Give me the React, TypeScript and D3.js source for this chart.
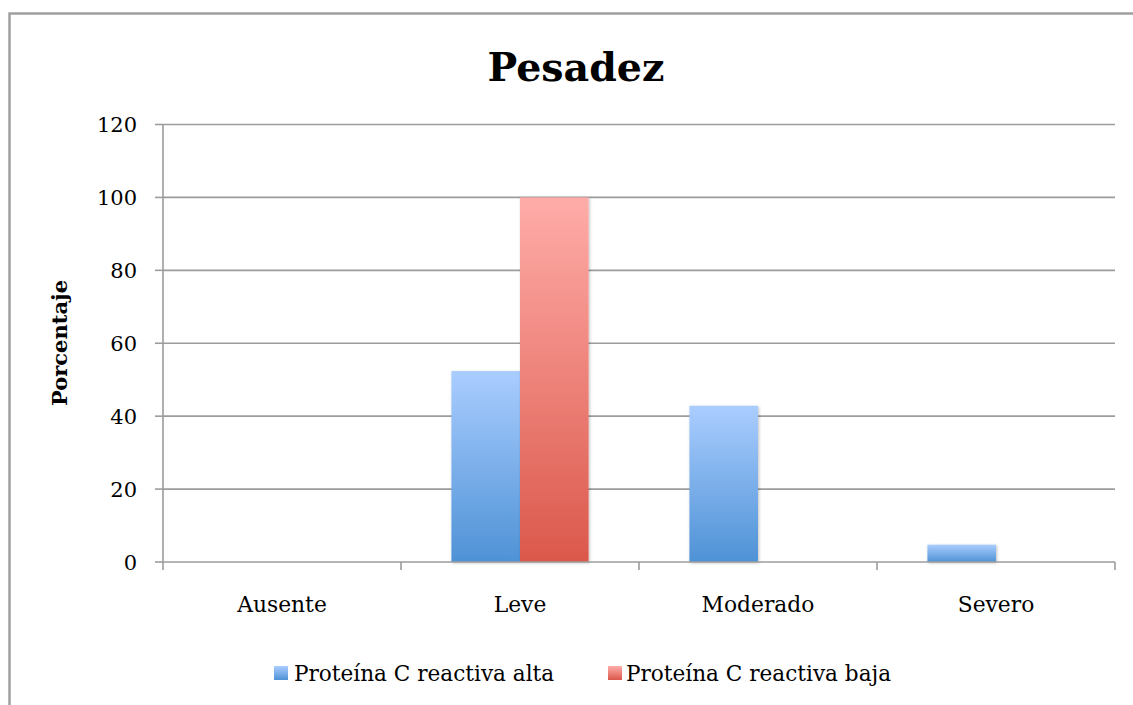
import React, { useEffect, useRef } from "react";
import * as d3 from "d3";

const categories = ["Ausente", "Leve", "Moderado", "Severo"];
const seriesNames = ["Proteína C reactiva alta", "Proteína C reactiva baja"];
const altaValues = [0, 52.38, 42.86, 4.76];
const bajaValues = [0, 100, 0, 0];
const yTicks = [0, 20, 40, 60, 80, 100, 120];
const title = "Pesadez";
const yLabel = "Porcentaje";

const W = 1133;
const H = 705;
const FONT = "'DejaVu Serif', serif";

export default function App() {
  const ref = useRef<SVGSVGElement>(null);

  useEffect(() => {
    document.body.style.margin = "0";
    const svg = d3.select(ref.current);
    svg.selectAll("*").remove();

    const left = 163, right = 1115, top = 124.5, bottom = 562;
    const x = d3.scaleBand<string>().domain(categories).range([left, right]).paddingInner(0).paddingOuter(0);
    const y = d3.scaleLinear().domain([0, 120]).range([bottom, top]);
    const inner = d3.scaleBand<number>().domain([0, 1]).range([0, x.bandwidth()]).paddingOuter(0.735).paddingInner(0);

    const defs = svg.append("defs");
    const gradBlue = defs.append("linearGradient").attr("id", "gBlue").attr("x1", 0).attr("y1", 0).attr("x2", 0).attr("y2", 1);
    gradBlue.append("stop").attr("offset", "0%").attr("stop-color", "#aacdff");
    gradBlue.append("stop").attr("offset", "100%").attr("stop-color", "#4e92d6");
    const gradRed = defs.append("linearGradient").attr("id", "gRed").attr("x1", 0).attr("y1", 0).attr("x2", 0).attr("y2", 1);
    gradRed.append("stop").attr("offset", "0%").attr("stop-color", "#ffaca8");
    gradRed.append("stop").attr("offset", "100%").attr("stop-color", "#db584b");
    const shadow = defs.append("filter").attr("id", "shadow").attr("x", "-20%").attr("y", "-20%").attr("width", "140%").attr("height", "140%");
    shadow.append("feDropShadow").attr("dx", 1).attr("dy", 1).attr("stdDeviation", 1.5).attr("flood-color", "#000").attr("flood-opacity", 0.25);

    // outer border
    svg.append("path")
      .attr("d", `M9.5,${H} L9.5,13.5 L${W},13.5`)
      .attr("fill", "none").attr("stroke", "#a0a0a0").attr("stroke-width", 2.5);

    // title
    svg.append("text").attr("x", 576).attr("y", 81).attr("text-anchor", "middle")
      .attr("font-family", FONT).attr("font-weight", "bold").attr("font-size", 39.5).text(title);

    // gridlines
    svg.append("g").selectAll("line").data(yTicks.filter(t => t > 0)).join("line")
      .attr("x1", left).attr("x2", right).attr("y1", d => y(d)).attr("y2", d => y(d))
      .attr("stroke", "#9c9c9c").attr("stroke-width", 1.6);

    // y ticks & labels
    const yg = svg.append("g");
    yg.selectAll("line").data(yTicks).join("line")
      .attr("x1", left - 8).attr("x2", left).attr("y1", d => y(d)).attr("y2", d => y(d))
      .attr("stroke", "#9c9c9c").attr("stroke-width", 1.6);
    yg.selectAll("text").data(yTicks).join("text")
      .attr("x", 137).attr("y", d => y(d)).attr("dy", "0.36em").attr("text-anchor", "end")
      .attr("font-family", FONT).attr("font-size", 21).attr("fill", "#000").text(d => d);
    svg.append("line").attr("x1", left).attr("x2", left).attr("y1", top).attr("y2", bottom)
      .attr("stroke", "#9c9c9c").attr("stroke-width", 1.6);

    // y label
    svg.append("text").attr("transform", `translate(67,343) rotate(-90)`).attr("text-anchor", "middle")
      .attr("font-family", FONT).attr("font-weight", "bold").attr("font-size", 21).text(yLabel);

    // bars
    const bars = svg.append("g");
    categories.forEach((c, i) => {
      const vals = [altaValues[i], bajaValues[i]];
      vals.forEach((v, s) => {
        if (v <= 0) return;
        bars.append("rect")
          .attr("x", (x(c) as number) + (inner(s) as number))
          .attr("y", y(v))
          .attr("width", inner.bandwidth())
          .attr("height", bottom - y(v))
          .attr("fill", s === 0 ? "url(#gBlue)" : "url(#gRed)")
          .attr("filter", "url(#shadow)");
      });
    });

    // x axis
    svg.append("line").attr("x1", left).attr("x2", right).attr("y1", bottom).attr("y2", bottom)
      .attr("stroke", "#9c9c9c").attr("stroke-width", 1.6);
    const xTickPos = [...categories.map(c => x(c) as number), right];
    svg.append("g").selectAll("line").data(xTickPos).join("line")
      .attr("x1", d => d).attr("x2", d => d).attr("y1", bottom).attr("y2", bottom + 8)
      .attr("stroke", "#9c9c9c").attr("stroke-width", 1.6);
    svg.append("g").selectAll("text").data(categories).join("text")
      .attr("x", d => (x(d) as number) + x.bandwidth() / 2).attr("y", 612).attr("text-anchor", "middle")
      .attr("font-family", FONT).attr("font-size", 21.8).text(d => d);

    // legend
    const legendItems = [
      { name: seriesNames[0], fill: "url(#gBlue)", sx: 274, tx: 294 },
      { name: seriesNames[1], fill: "url(#gRed)", sx: 608, tx: 626 },
    ];
    const lg = svg.append("g");
    legendItems.forEach(it => {
      lg.append("rect").attr("x", it.sx).attr("y", 666).attr("width", 14).attr("height", 14).attr("fill", it.fill);
      lg.append("text").attr("x", it.tx).attr("y", 681).attr("font-family", FONT).attr("font-size", 21.6).text(it.name);
    });
  }, []);

  return <svg ref={ref} width={W} height={H} style={{ display: "block", background: "#fff" }} />;
}
